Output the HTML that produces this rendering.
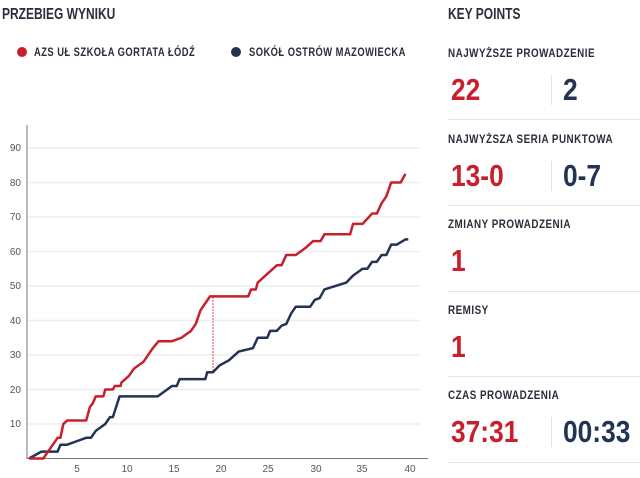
<!DOCTYPE html>
<html><head><meta charset="utf-8"><style>
body{margin:0;width:640px;height:478px;background:#fff;position:relative;overflow:hidden;font-family:"Liberation Sans",sans-serif;}
.t{position:absolute;font-weight:bold;color:#2a2d3a;white-space:nowrap;transform-origin:0 0;}
.h{font-size:16px;transform:scaleX(.75);}
.l{font-size:12px;letter-spacing:.6px;transform:scaleX(.82);}
.lg{transform:scaleX(.78);}
.v{font-size:31px;transform:scaleX(.85);}
.r{color:#c7202c}.b{color:#233453}
.sep{position:absolute;left:448px;width:192px;height:1px;background:#e6e6e6}
.vd{position:absolute;left:551px;width:1px;height:30px;background:#e3e3e3}
</style></head><body>
<div class="t h" style="left:2px;top:6px">PRZEBIEG WYNIKU</div>
<div style="position:absolute;left:17px;top:47px;width:10px;height:10px;border-radius:50%;background:#c7202c"></div>
<div class="t l lg" style="left:34px;top:45px">AZS UŁ SZKOŁA GORTATA ŁÓDŹ</div>
<div style="position:absolute;left:231px;top:47px;width:10px;height:10px;border-radius:50%;background:#233453"></div>
<div class="t l lg" style="left:249px;top:45px">SOKÓŁ OSTRÓW MAZOWIECKA</div>

<svg width="640" height="478" style="position:absolute;left:0;top:0" font-family="Liberation Sans, sans-serif" font-size="10" fill="#555">
<g stroke="#eeeeee" stroke-width="1.5">
<line x1="28" x2="420" y1="148" y2="148"/><line x1="28" x2="420" y1="182.5" y2="182.5"/>
<line x1="28" x2="420" y1="217" y2="217"/><line x1="28" x2="420" y1="251.5" y2="251.5"/>
<line x1="28" x2="420" y1="286" y2="286"/><line x1="28" x2="420" y1="320.5" y2="320.5"/>
<line x1="28" x2="420" y1="355" y2="355"/><line x1="28" x2="420" y1="389.5" y2="389.5"/>
<line x1="28" x2="420" y1="424" y2="424"/>
</g>
<line x1="27" y1="125" x2="27" y2="459" stroke="#777" stroke-width="1"/>
<line x1="27" y1="458.5" x2="428" y2="458.5" stroke="#777" stroke-width="1"/>
<g text-anchor="end"><text x="21" y="151">90</text><text x="21" y="186">80</text><text x="21" y="220">70</text><text x="21" y="255">60</text><text x="21" y="289">50</text><text x="21" y="324">40</text><text x="21" y="358">30</text><text x="21" y="393">20</text><text x="21" y="427">10</text></g>
<g text-anchor="middle"><text x="77" y="472">5</text><text x="127" y="472">10</text><text x="174" y="472">15</text><text x="221" y="472">20</text><text x="268" y="472">25</text><text x="316" y="472">30</text><text x="362" y="472">35</text><text x="410" y="472">40</text></g>
<line x1="213" y1="297" x2="213" y2="371" stroke="#c7202c" stroke-width="0.8" stroke-dasharray="2,1"/>
<g transform="translate(29,458.5) scale(9.53,-3.45)" fill="none" stroke-width="2.5" stroke-linejoin="round">
<polyline vector-effect="non-scaling-stroke" stroke="#233453" points="0,0 1.3,2 3,2 3.3,4 4,4 5,5 6,6 6.5,6 7,8 8,10 8.5,12 8.8,12 9.5,18 13.5,18 14,19 15,21 15.5,21 15.8,23 18.5,23 18.7,25 19.3,25 20,27 21,28.5 22,31 23.5,32 24,35 25,35 25.3,37 26,37 26.5,38.5 27,39 27.5,42 28,44 29.5,44 30,46 30.5,46.5 31,49 33.3,51 34,53 35,55 35.5,55 36,57 36.5,57 37,59 37.5,59 38,62 38.6,62 39.5,63.5 39.8,63.5"/>
<polyline vector-effect="non-scaling-stroke" stroke="#c7202c" points="0,0 1.5,0 2,2 2.5,4 3,6 3.3,6 3.6,10 4,11 6,11 6.4,15 6.7,16 7,18 7.8,18 8,20 8.8,20 9,21 9.6,21 9.7,22 10.5,24 11,26 12,28 13,32 13.6,34 15,34 16,35 17,37 17.5,39 18,43 18.5,45 19,47 23,47 23.3,49 23.8,49 24,51 25,53.5 26,56 26.5,56 27,59 28,59 29,61 29.8,63 30.6,63 31,65 33.7,65 34,68 35,68 36,71 36.5,71 37,74 37.5,76 38,80 39,80 39.5,82.5"/>
</g>
</svg>

<div class="t h" style="left:448px;top:6px">KEY POINTS</div>
<div class="t l" style="left:448px;top:46px">NAJWYŻSZE PROWADZENIE</div>
<div class="t v r" style="left:451px;top:72px">22</div><div class="vd" style="top:75px"></div><div class="t v b" style="left:563px;top:72px">2</div>
<div class="sep" style="top:119px"></div>
<div class="t l" style="left:448px;top:132px">NAJWYŻSZA SERIA PUNKTOWA</div>
<div class="t v r" style="left:451px;top:158px">13-0</div><div class="vd" style="top:161px"></div><div class="t v b" style="left:563px;top:158px">0-7</div>
<div class="sep" style="top:205px"></div>
<div class="t l" style="left:448px;top:217px">ZMIANY PROWADZENIA</div>
<div class="t v r" style="left:451px;top:243px">1</div>
<div class="sep" style="top:291px"></div>
<div class="t l" style="left:448px;top:303px">REMISY</div>
<div class="t v r" style="left:451px;top:329px">1</div>
<div class="sep" style="top:376px"></div>
<div class="t l" style="left:448px;top:388px">CZAS PROWADZENIA</div>
<div class="t v r" style="left:451px;top:414px">37:31</div><div class="vd" style="top:417px"></div><div class="t v b" style="left:563px;top:414px">00:33</div>
<div class="sep" style="top:462px"></div>
</body></html>
